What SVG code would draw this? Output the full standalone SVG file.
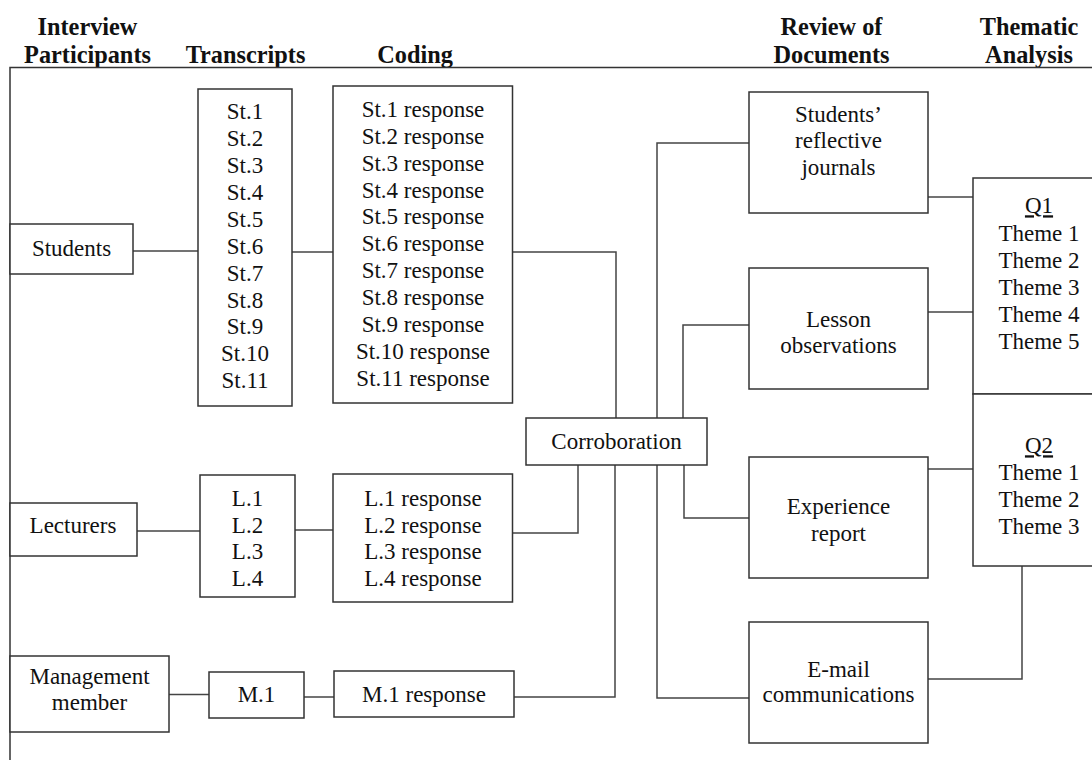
<svg xmlns="http://www.w3.org/2000/svg" width="1092" height="763" viewBox="0 0 1092 763">
<style>
.bx{fill:#fff;stroke:#333;stroke-width:1.5}
.ln{fill:none;stroke:#444;stroke-width:1.5}
text{font-family:"Liberation Serif","Times New Roman",serif;font-size:23px;fill:#111;text-anchor:middle}
.h{font-weight:bold;font-size:24.3px}
.u{text-decoration:underline}
</style>
<rect width="1092" height="763" fill="#fff"/>
<g id="headers">
<text class="h" x="87.5" y="35">Interview</text>
<text class="h" x="87.5" y="62.5">Participants</text>
<text class="h" x="245.5" y="62.5">Transcripts</text>
<text class="h" x="415" y="62.5">Coding</text>
<text class="h" x="831.5" y="35">Review of</text>
<text class="h" x="831.5" y="62.5">Documents</text>
<text class="h" x="1029" y="35">Thematic</text>
<text class="h" x="1029" y="62.5">Analysis</text>
<path class="ln" style="stroke:#333" d="M1092,67.5 H10 V760"/>
</g>
<g id="connectors">
<path class="ln" d="M133,251 H198"/>
<path class="ln" d="M292,252 H333"/>
<path class="ln" d="M512,252 H616 V418"/>
<path class="ln" d="M137,531 H200"/>
<path class="ln" d="M295,530 H333"/>
<path class="ln" d="M512,533 H578 V465"/>
<path class="ln" d="M169,694.5 H209"/>
<path class="ln" d="M304,697 H334"/>
<path class="ln" d="M514,697 H615 V465"/>
<path class="ln" d="M657,418 V143 H749"/>
<path class="ln" d="M683,418 V325 H749"/>
<path class="ln" d="M684,465 V518 H749"/>
<path class="ln" d="M657,465 V698 H749"/>
<path class="ln" d="M928,197 H973"/>
<path class="ln" d="M928,312 H973"/>
<path class="ln" d="M928,469 H973"/>
<path class="ln" d="M928,679 H1022 V566"/>
</g>
<g id="students">
<rect class="bx" x="10" y="224" width="123" height="50"/>
<text x="71.5" y="256">Students</text>
</g>
<g id="lecturers">
<rect class="bx" x="10" y="503" width="127" height="53"/>
<text x="73" y="533">Lecturers</text>
</g>
<g id="management">
<rect class="bx" x="10" y="656" width="159" height="76"/>
<text x="89.5" y="683.5">Management</text>
<text x="89.5" y="710">member</text>
</g>
<g id="st-transcripts">
<rect class="bx" x="198" y="89" width="94" height="317"/>
<text x="245" y="119">St.1</text>
<text x="245" y="145.9">St.2</text>
<text x="245" y="172.9">St.3</text>
<text x="245" y="199.8">St.4</text>
<text x="245" y="226.7">St.5</text>
<text x="245" y="253.7">St.6</text>
<text x="245" y="280.6">St.7</text>
<text x="245" y="307.5">St.8</text>
<text x="245" y="334.4">St.9</text>
<text x="245" y="361.4">St.10</text>
<text x="245" y="388.3">St.11</text>
</g>
<g id="l-transcripts">
<rect class="bx" x="200" y="475" width="95" height="122"/>
<text x="247.5" y="505.5">L.1</text>
<text x="247.5" y="532.5">L.2</text>
<text x="247.5" y="559.3">L.3</text>
<text x="247.5" y="586">L.4</text>
</g>
<g id="m-transcripts">
<rect class="bx" x="209" y="672" width="95" height="46"/>
<text x="256.5" y="702">M.1</text>
</g>
<g id="st-coding">
<rect class="bx" x="333" y="86" width="179.5" height="317"/>
<text x="423" y="116.7">St.1 response</text>
<text x="423" y="143.6">St.2 response</text>
<text x="423" y="170.6">St.3 response</text>
<text x="423" y="197.5">St.4 response</text>
<text x="423" y="224.4">St.5 response</text>
<text x="423" y="251.4">St.6 response</text>
<text x="423" y="278.3">St.7 response</text>
<text x="423" y="305.2">St.8 response</text>
<text x="423" y="332.1">St.9 response</text>
<text x="423" y="359.1">St.10 response</text>
<text x="423" y="386">St.11 response</text>
</g>
<g id="l-coding">
<rect class="bx" x="333" y="474" width="179.5" height="128"/>
<text x="423" y="505.5">L.1 response</text>
<text x="423" y="532.5">L.2 response</text>
<text x="423" y="559.3">L.3 response</text>
<text x="423" y="586">L.4 response</text>
</g>
<g id="m-coding">
<rect class="bx" x="334" y="671" width="180" height="46"/>
<text x="424" y="702">M.1 response</text>
</g>
<g id="corroboration">
<rect class="bx" x="526" y="418" width="181" height="47"/>
<text x="616.5" y="448.5">Corroboration</text>
</g>
<g id="journals">
<rect class="bx" x="749" y="92" width="179" height="121"/>
<text x="838.5" y="121.7">Students’</text>
<text x="838.5" y="148.3">reflective</text>
<text x="838.5" y="175">journals</text>
</g>
<g id="lesson">
<rect class="bx" x="749" y="268" width="179" height="121"/>
<text x="838.5" y="326.7">Lesson</text>
<text x="838.5" y="352.7">observations</text>
</g>
<g id="experience">
<rect class="bx" x="749" y="457" width="179" height="121"/>
<text x="838.5" y="513.5">Experience</text>
<text x="838.5" y="541">report</text>
</g>
<g id="email">
<rect class="bx" x="749" y="622" width="179" height="121"/>
<text x="838.5" y="676.5">E-mail</text>
<text x="838.5" y="702">communications</text>
</g>
<g id="q1">
<rect class="bx" x="973" y="178" width="140" height="216"/>
<text class="u" x="1039" y="213.3">Q1</text>
<text x="1039" y="240.7">Theme 1</text>
<text x="1039" y="267.7">Theme 2</text>
<text x="1039" y="294.7">Theme 3</text>
<text x="1039" y="321.7">Theme 4</text>
<text x="1039" y="348.5">Theme 5</text>
</g>
<g id="q2">
<rect class="bx" x="973" y="394" width="140" height="172"/>
<text class="u" x="1039" y="453.3">Q2</text>
<text x="1039" y="480">Theme 1</text>
<text x="1039" y="507">Theme 2</text>
<text x="1039" y="534">Theme 3</text>
</g>
</svg>
